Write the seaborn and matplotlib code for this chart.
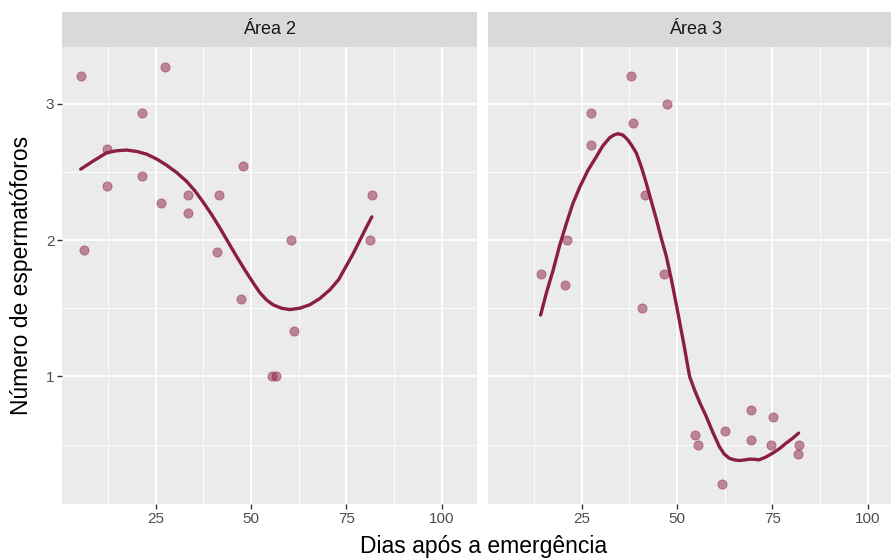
import numpy as np
import pandas as pd
import matplotlib
matplotlib.use("Agg")
import matplotlib.pyplot as plt
import seaborn as sns

area2_dias = [5.3, 6.2, 12.2, 12.2, 21.3, 21.3, 27.3, 26.4, 33.5, 33.5,
              41.5, 41.0, 47.8, 60.5, 81.7, 81.3, 47.3, 61.2, 55.6, 56.5]
area2_esp = [3.2, 1.93, 2.67, 2.4, 2.93, 2.47, 3.27, 2.27, 2.33, 2.2,
             2.33, 1.91, 2.54, 2.0, 2.33, 2.0, 1.57, 1.33, 1.0, 1.0]

area3_dias = [37.8, 47.3, 27.3, 38.5, 27.4, 41.5, 21.0, 14.2, 46.7, 20.7,
              40.7, 54.8, 55.5, 62.6, 69.5, 75.3, 69.5, 74.7, 81.9, 81.8, 61.7]
area3_esp = [3.2, 3.0, 2.93, 2.86, 2.7, 2.33, 2.0, 1.75, 1.75, 1.67,
             1.5, 0.57, 0.5, 0.6, 0.75, 0.7, 0.53, 0.5, 0.5, 0.43, 0.21]

# curva suavizada
area2_curva_x = [5.3, 8.6, 12.1, 14.7, 17.3, 20.0, 22.6, 25.2, 27.8, 30.5, 33.1,
                 35.3, 37.4, 39.6, 41.8, 44.0, 46.2, 48.4, 50.6, 52.3, 54.1, 55.8,
                 58.0, 60.2, 62.8, 65.4, 68.0, 70.7, 73.0, 75.0, 76.8, 78.6, 80.2,
                 81.7]
area2_curva_y = [2.52, 2.58, 2.64, 2.655, 2.66, 2.65, 2.63, 2.595, 2.55, 2.495,
                 2.43, 2.36, 2.28, 2.19, 2.09, 1.985, 1.88, 1.78, 1.685, 1.615,
                 1.56, 1.525, 1.50, 1.49, 1.50, 1.525, 1.57, 1.635, 1.71,
                 1.81, 1.90, 2.0, 2.09, 2.17]

area3_curva_x = [14.2, 15.8, 17.5, 19.2, 21.0, 22.7, 24.5, 26.6, 28.8, 30.5,
                 32.3, 33.4, 34.5, 35.8, 37.1, 38.2, 39.3, 40.6, 41.9, 43.2,
                 44.6, 45.9, 47.2, 48.6, 50.0, 51.7, 53.3, 54.6, 56.1, 57.6,
                 59.4, 61.1, 62.4, 63.7, 65.0, 66.4, 67.7, 69.0, 70.3, 71.5,
                 73.3, 75.1, 76.9, 78.6, 80.3, 81.9]
area3_curva_y = [1.45, 1.62, 1.78, 1.96, 2.125, 2.27, 2.39, 2.51, 2.61, 2.69,
                 2.75, 2.77, 2.78, 2.77, 2.735, 2.69, 2.64, 2.54, 2.42, 2.29,
                 2.15, 2.01, 1.88, 1.70, 1.50, 1.25, 1.0, 0.90, 0.80, 0.71,
                 0.59, 0.485, 0.43, 0.40, 0.388, 0.383, 0.387, 0.393, 0.392, 0.388,
                 0.408, 0.437, 0.47, 0.51, 0.545, 0.584]

areas = ["Área 2", "Área 3"]

pontos = pd.concat([
    pd.DataFrame({"area": "Área 2", "dias": area2_dias, "esp": area2_esp}),
    pd.DataFrame({"area": "Área 3", "dias": area3_dias, "esp": area3_esp}),
])
curvas = pd.concat([
    pd.DataFrame({"area": "Área 2", "dias": area2_curva_x, "esp": area2_curva_y}),
    pd.DataFrame({"area": "Área 3", "dias": area3_curva_x, "esp": area3_curva_y}),
])

sns.set_theme(style="darkgrid")
plt.rcParams["font.family"] = ["Liberation Sans", "DejaVu Sans"]

cor = "#8A1E43"
W, H = 891, 559
fig = plt.figure(figsize=(W / 100, H / 100), dpi=100)

painel_esq = [62, 488]
painel_w = 415
topo, base = 47, 504
strip_h = 35

for i, area in enumerate(areas):
    x0 = painel_esq[i]
    ax = fig.add_axes([x0 / W, 1 - base / H, painel_w / W, (base - topo) / H])
    ax.set_facecolor("#EBEBEB")
    sub = pontos[pontos["area"] == area]
    sns.scatterplot(data=sub, x="dias", y="esp", ax=ax, color=cor, alpha=0.5,
                    s=44, edgecolor=cor, linewidth=0.6, zorder=3)
    c = curvas[curvas["area"] == area]
    sns.lineplot(data=c, x="dias", y="esp", ax=ax, color=cor, linewidth=2.4,
                 sort=False, estimator=None, zorder=4)
    ax.set_xlim(0.4, 109.3)
    ax.set_ylim(0.064, 3.416)
    ax.set_xticks([25, 50, 75, 100])
    ax.set_yticks([1, 2, 3])
    ax.set_xticks([12.5, 37.5, 62.5, 87.5], minor=True)
    ax.set_yticks([0.5, 1.5, 2.5], minor=True)
    ax.grid(which="major", color="white", linewidth=1.3)
    ax.grid(which="minor", color="white", linewidth=0.6)
    ax.tick_params(which="major", length=3.5, width=1.0, color="#333333",
                   labelsize=11, labelcolor="#4D4D4D", pad=2, bottom=True,
                   left=(i == 0))
    ax.tick_params(which="minor", length=0)
    if i > 0:
        ax.set_yticklabels([])
    ax.set_xlabel("")
    ax.set_ylabel("")
    for s in ax.spines.values():
        s.set_visible(False)

    sax = fig.add_axes([x0 / W, 1 - topo / H, painel_w / W, strip_h / H])
    sax.set_facecolor("#D9D9D9")
    sax.set_xticks([])
    sax.set_yticks([])
    for s in sax.spines.values():
        s.set_visible(False)
    sax.text(0.5, 0.5, area, ha="center", va="center", fontsize=13,
             color="#1A1A1A", transform=sax.transAxes)

fig.text(483.5 / W, 1 - 547 / H, "Dias após a emergência", ha="center",
         va="center", fontsize=16.5, color="black")
fig.text(22 / W, 1 - 275 / H, "Número de espermatóforos", ha="center",
         va="center", rotation=90, fontsize=16.5, color="black")

fig.savefig("out.png", dpi=100, facecolor="white")
